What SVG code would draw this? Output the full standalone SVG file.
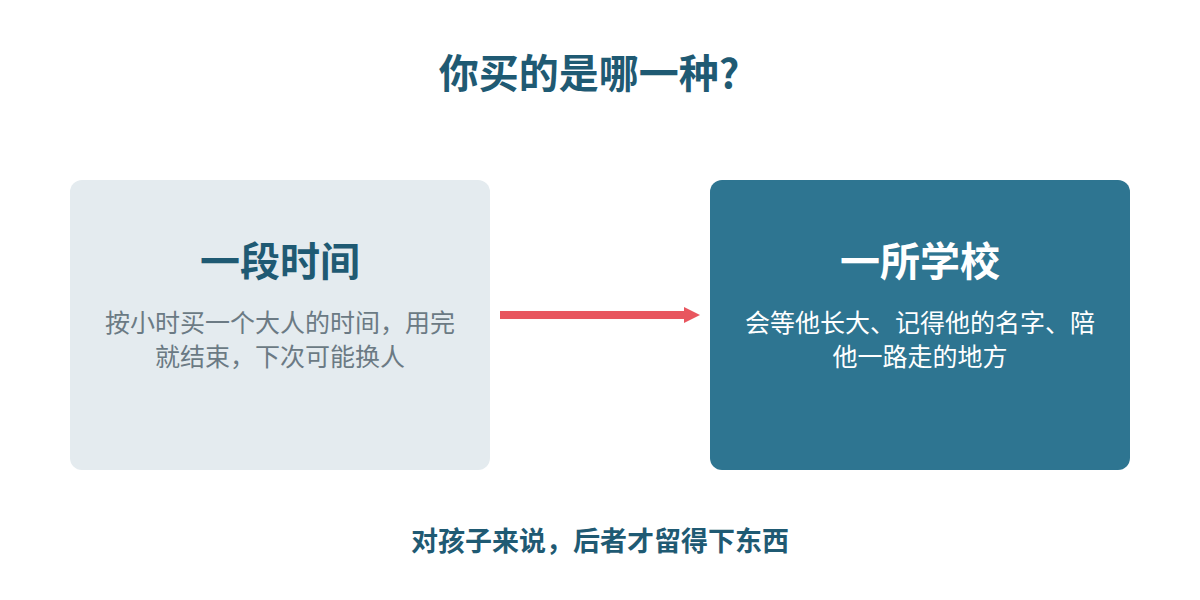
<svg xmlns="http://www.w3.org/2000/svg" width="1200" height="600" viewBox="0 0 1200 600">
<style>
text{font-family:"Noto Sans CJK SC","Noto Sans",sans-serif;text-anchor:middle}
.title{font-size:40px;font-weight:700;fill:#1f5a73}
.h{font-size:40px;font-weight:700}
.b{font-size:25px}
.foot{font-size:27px;font-weight:700;fill:#1f5a73}
</style>
<defs>
<marker id="ah" markerWidth="2" markerHeight="4" refX="0" refY="2" orient="auto" markerUnits="strokeWidth">
<path d="M0,1 L2,2 L0,3 Z" fill="#e8565f"/>
</marker>
</defs>
<rect width="1200" height="600" fill="#ffffff"/>
<text class="title" x="589" y="88">你买的是哪一种?</text>
<g id="node-time">
<rect x="70" y="180" width="420" height="290" rx="12" fill="#e4ebef"/>
<text class="h" x="280" y="276" fill="#1f5a73">一段时间</text>
<text class="b" x="280" y="332" fill="#6b7a84">按小时买一个大人的时间，用完</text>
<text class="b" x="280" y="366" fill="#6b7a84">就结束，下次可能换人</text>
</g>
<g id="node-school">
<rect x="710" y="180" width="420" height="290" rx="12" fill="#2e7591"/>
<text class="h" x="920" y="276" fill="#ffffff">一所学校</text>
<text class="b" x="920" y="332" fill="#ffffff">会等他长大、记得他的名字、陪</text>
<text class="b" x="920" y="366" fill="#ffffff">他一路走的地方</text>
</g>
<g id="connectors">
<line x1="500" y1="315" x2="684" y2="315" stroke="#e8565f" stroke-width="8" marker-end="url(#ah)"/>
</g>
<text class="foot" x="600" y="551">对孩子来说，后者才留得下东西</text>
</svg>
